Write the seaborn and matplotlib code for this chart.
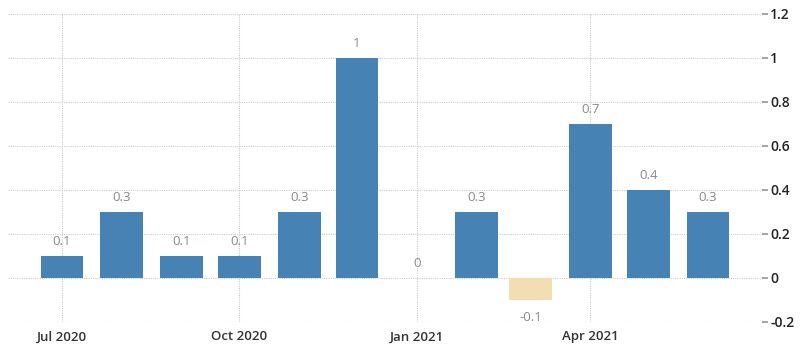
import datetime as dt
import pandas as pd
import matplotlib
matplotlib.use("Agg")
import matplotlib.pyplot as plt
import matplotlib.dates as mdates
import seaborn as sns

# monthly change, Jul 2020 - Jun 2021
months = ["2020-07-01", "2020-08-01", "2020-09-01", "2020-10-01", "2020-11-01", "2020-12-01",
          "2021-01-01", "2021-02-01", "2021-03-01", "2021-04-01", "2021-05-01", "2021-06-01"]
values = [0.1, 0.3, 0.1, 0.1, 0.3, 1, 0, 0.3, -0.1, 0.7, 0.4, 0.3]
labels = ["0.1", "0.3", "0.1", "0.1", "0.3", "1", "0", "0.3", "-0.1", "0.7", "0.4", "0.3"]
xtick_dates = ["2020-07-01", "2020-10-01", "2021-01-01", "2021-04-01"]
yticks = [-0.2, 0, 0.2, 0.4, 0.6, 0.8, 1, 1.2]
ytick_labels = ["-0.2", "0", "0.2", "0.4", "0.6", "0.8", "1", "1.2"]

sns.set_theme(style="white")
plt.rcParams['font.family'] = ['Open Sans', 'DejaVu Sans']

df = pd.DataFrame({"date": pd.to_datetime(months), "value": values})
df["x"] = mdates.date2num(df["date"])
df["sign"] = ["neg" if v < 0 else "pos" for v in values]

fig = plt.figure(figsize=(8, 3.54), dpi=100)
ax = fig.add_axes([0.01, 0.0904, 0.9425, 0.8701])

sns.barplot(data=df, x="x", y="value", hue="sign", palette={"pos": "#4682b4", "neg": "#f3ddb2"},
            native_scale=True, width=0.79, dodge=False, legend=False, ax=ax,
            edgecolor="none", saturation=1)

for xv, v, lab in zip(df["x"], values, labels):
    if v < 0:
        ax.annotate(lab, (xv, v), xytext=(0, -8), textcoords="offset points",
                    ha="center", va="top", color="#8a8a8a", fontsize=9.5)
    else:
        ax.annotate(lab, (xv, v), xytext=(0, 6), textcoords="offset points",
                    ha="center", va="bottom", color="#8a8a8a", fontsize=9.5)

x0 = mdates.date2num(dt.datetime(2020, 7, 1))
ax.set_xlim(x0 - 28, x0 + 363)
ax.set_ylim(-0.2, 1.2)
ax.set_xticks(mdates.date2num(pd.to_datetime(xtick_dates)))
ax.xaxis.set_major_formatter(mdates.DateFormatter("%b %Y"))
ax.set_yticks(yticks)
ax.set_yticklabels(ytick_labels, fontweight="semibold")
ax.set_xticklabels([lab.get_text() for lab in ax.get_xticklabels()], fontweight="semibold")
ax.yaxis.tick_right()
ax.tick_params(axis="y", length=4, color="#999999", labelsize=10, labelcolor="#222222", pad=2)
ax.tick_params(axis="x", length=0, labelsize=9.5, labelcolor="#333333", pad=6)
ax.grid(True, linestyle=(0, (1, 1)), color="#cccccc", linewidth=0.8)
ax.set_axisbelow(True)
for s in ax.spines.values():
    s.set_visible(False)
ax.set_xlabel("")
ax.set_ylabel("")

fig.savefig("out.png", dpi=100)
